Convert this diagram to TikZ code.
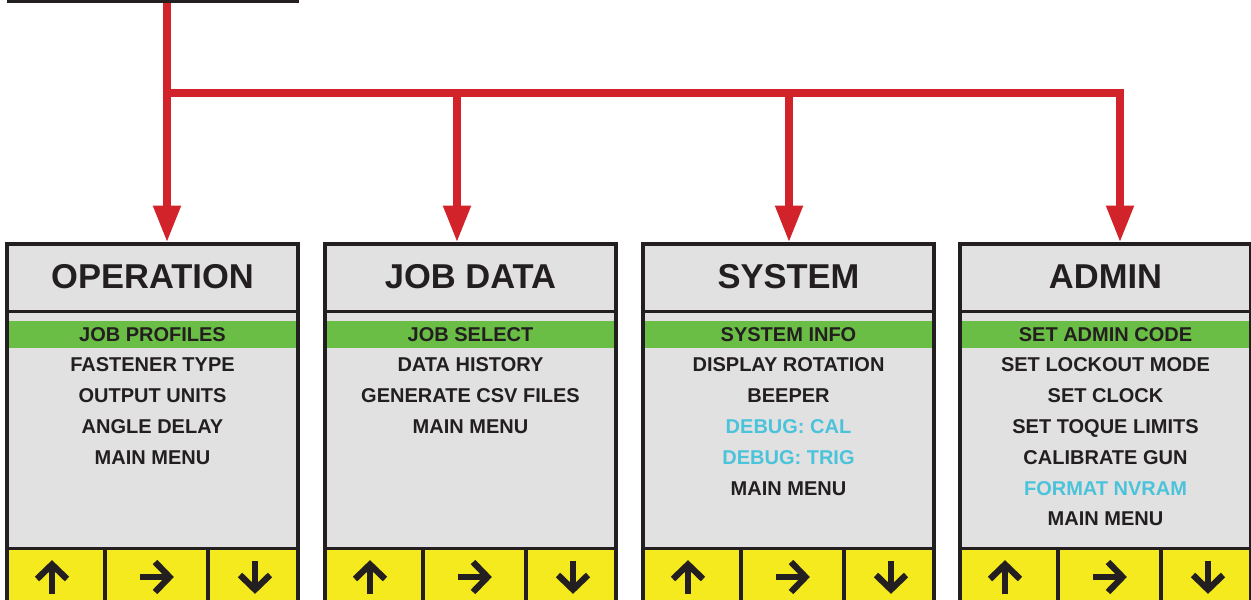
\documentclass[tikz,border=0pt]{standalone}
\usepackage{fontspec}
\setmainfont{Liberation Sans}
\usetikzlibrary{arrows.meta,calc}
\definecolor{redc}{HTML}{D2232A}
\definecolor{dark}{HTML}{231F20}
\definecolor{panelgray}{HTML}{E1E1E1}
\definecolor{hlgreen}{HTML}{6ABD45}
\definecolor{keyyellow}{HTML}{F5EA1E}
\definecolor{cyanc}{HTML}{4BC3DA}
\tikzset{
  panel/.style={rectangle, minimum width=291pt, minimum height=360pt, inner sep=0pt, outer sep=0pt, fill=panelgray},
  rule/.style={draw=dark, line width=3.5pt},
  titletext/.style={font=\fontsize{34.5}{40}\selectfont\bfseries, text=dark, inner sep=0pt, anchor=base},
  itemtext/.style={font=\fontsize{20}{24}\selectfont\bfseries, inner sep=0pt, anchor=base},
  icon/.style={draw=dark, line width=6.3pt, line join=miter, line cap=butt},
  feed/.style={draw=redc, line width=8pt, line join=miter},
  tip/.style={-{Triangle[width=26pt,length=37pt]}},
}
\newcommand\menupanel[4]{%
  \node[panel, anchor=north west] (#1) at (#2,244) {};
  \fill[hlgreen] ($(#1.north west)+(1.75,77)$) rectangle ($(#1.north east)+(-1.75,103.5)$);
  \fill[keyyellow] ($(#1.north west)+(0,304.5)$) rectangle (#1.south east);
  \draw[rule] ($(#1.north west)+(0,67.5)$) -- ($(#1.north east)+(0,67.5)$);
  \draw[rule] ($(#1.north west)+(0,304.5)$) -- ($(#1.north east)+(0,304.5)$);
  \draw[rule] ($(#1.north west)+(98,304.5)$) -- ($(#1.south west)+(98,0)$);
  \draw[rule] ($(#1.north west)+(201,304.5)$) -- ($(#1.south west)+(201,0)$);
  \draw[rule] (#1.north west) rectangle (#1.south east);
  \node[titletext] (#1-title) at ($(#1.north)+(0,44.5)$) {#3};
  \foreach \t/\c [count=\i] in {#4} {%
    \node[itemtext, text=\c] (#1-item\i) at ($(#1.north)+(0,97+30.8*\i-30.8)$) {\t};}
  \coordinate (#1-k1) at ($(#1.north west)+(45,333)$);
  \coordinate (#1-k2) at ($(#1.north west)+(150,333)$);
  \coordinate (#1-k3) at ($(#1.north west)+(248,333)$);
  \draw[icon] ($(#1-k1)+(0,16.5)$) -- ($(#1-k1)+(0,-13)$);
  \draw[icon] ($(#1-k1)+(-15,2)$) -- ($(#1-k1)+(0,-12.5)$) -- ($(#1-k1)+(15,2)$);
  \draw[icon] ($(#1-k2)+(-17.5,0)$) -- ($(#1-k2)+(13,0)$);
  \draw[icon] ($(#1-k2)+(-2,-15)$) -- ($(#1-k2)+(12.5,0)$) -- ($(#1-k2)+(-2,15)$);
  \draw[icon] ($(#1-k3)+(0,-16.5)$) -- ($(#1-k3)+(0,13)$);
  \draw[icon] ($(#1-k3)+(-15,-2)$) -- ($(#1-k3)+(0,12.5)$) -- ($(#1-k3)+(15,-2)$);
}
\begin{document}
\begin{tikzpicture}[x=1pt,y=-1pt]
\useasboundingbox (0,0) rectangle (1251,600);
\fill[white] (0,0) rectangle (1251,600);
% red connectors
\coordinate (src) at (167,0);
\coordinate (j) at (167,92.5);
\coordinate (t2) at (457,92.5);
\coordinate (t3) at (789,92.5);
\coordinate (t4) at (1120,92.5);
\menupanel{b1}{7}{OPERATION}{JOB PROFILES/dark, FASTENER TYPE/dark, OUTPUT UNITS/dark, ANGLE DELAY/dark, MAIN MENU/dark}
\menupanel{b2}{325}{JOB DATA}{JOB SELECT/dark, DATA HISTORY/dark, GENERATE CSV FILES/dark, MAIN MENU/dark}
\menupanel{b3}{643}{SYSTEM}{SYSTEM INFO/dark, DISPLAY ROTATION/dark, BEEPER/dark, DEBUG: CAL/cyanc, DEBUG: TRIG/cyanc, MAIN MENU/dark}
\menupanel{b4}{960}{ADMIN}{SET ADMIN CODE/dark, SET LOCKOUT MODE/dark, SET CLOCK/dark, SET TOQUE LIMITS/dark, CALIBRATE GUN/dark, FORMAT NVRAM/cyanc, MAIN MENU/dark}
\draw[feed, tip] (src) -- ($(src |- b1.north)+(0,-1.5)$);
\draw[feed, tip] (j) -- (t4) -- ($(t4 |- b4.north)+(0,-1.5)$);
\draw[feed, tip] (t2) -- ($(t2 |- b2.north)+(0,-1.5)$);
\draw[feed, tip] (t3) -- ($(t3 |- b3.north)+(0,-1.5)$);
% top edge of the box above
\draw[draw=dark, line width=3pt] (7,1.2) -- (299,1.2);
\end{tikzpicture}
\end{document}
